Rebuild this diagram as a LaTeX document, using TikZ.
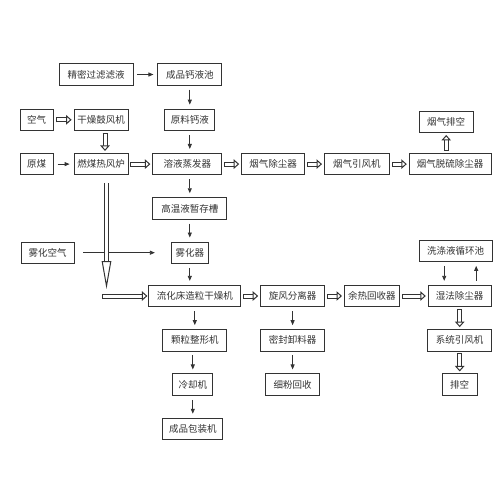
\documentclass[tikz,border=0pt]{standalone}
\usepackage{fontspec}
\newfontfamily\cjk{Noto Sans CJK SC}
\usetikzlibrary{arrows.meta, positioning}
\definecolor{LineGray}{HTML}{333333}

\begin{document}
\begin{tikzpicture}[
  x=1pt, y=-1pt,
  node distance=22pt and 19pt,
  every node/.style={font=\cjk\fontsize{9.5}{11}\selectfont, text=LineGray},
  box/.style={rectangle, draw=LineGray, line width=0.8pt, align=center,
              minimum height=21.5pt, inner xsep=2pt, inner ysep=0pt},
  arr/.style={-{Triangle[length=5pt, width=4pt]}, line width=0.8pt, draw=LineGray,
              shorten <=4pt, shorten >=4pt},
  hol/.style={double=white, double distance=3pt, line width=1pt, draw=LineGray,
              {Bar[width=5pt, line width=1pt]}-{Triangle[fill=white, length=5.5pt, width=9.5pt, line width=1pt]},
              shorten <=2pt, shorten >=2pt},
  hollong/.style={hol, -{Triangle[fill=white, length=28pt, width=9.5pt, line width=1pt]}}
]
\useasboundingbox (0,0) rectangle (500,500);

% Nodes
\node[box, minimum width=74pt] (filtrate) at (96,74.5) {精密过滤滤液};
\node[box, minimum width=64pt, right=24pt of filtrate] (calcpool) {成品钙液池};
\node[box, minimum width=50pt, below=23pt of calcpool] (rawcalc) {原料钙液};
\node[box, minimum width=69pt, below=of rawcalc, xshift=-2.5pt] (evap) {溶液蒸发器};
\node[box, minimum width=74pt, below=of evap, xshift=2.5pt] (tank) {高温液暂存槽};
\node[box, minimum width=37pt, below=of tank] (atom) {雾化器};
\node[box, minimum width=92pt, below=21pt of atom, xshift=5pt] (dryer) {流化床造粒干燥机};
\node[box, minimum width=64pt, below=of dryer] (shaper) {颗粒整形机};
\node[box, minimum width=40pt, below=of shaper, xshift=-2pt] (cooler) {冷却机};
\node[box, minimum width=60pt, below=of cooler] (packer) {成品包装机};

\node[box, minimum width=54pt, below=23pt of filtrate, xshift=5pt] (blower) {干燥鼓风机};
\node[box, minimum width=33pt, left=20pt of blower] (air) {空气};
\node[box, minimum width=54pt, below=of blower] (furnace) {燃煤热风炉};
\node[box, minimum width=33pt, left=20pt of furnace] (coal) {原煤};
\node[box, minimum width=53pt, left=96.5pt of atom] (mistair) {雾化空气};

\node[box, minimum width=63pt, right=of evap] (dust) {烟气除尘器};
\node[box, minimum width=65pt, right=of dust] (idfan) {烟气引风机};
\node[box, minimum width=82pt, right=of idfan] (desulf) {烟气脱硫除尘器};
\node[box, minimum width=54pt, above=20pt of desulf, xshift=-4pt] (flue) {烟气排空};

\node[box, minimum width=64pt, right=of dryer] (cyclone) {旋风分离器};
\node[box, minimum width=64pt, below=of cyclone] (seal) {密封卸料器};
\node[box, minimum width=54pt, below=of seal] (fines) {细粉回收};
\node[box, minimum width=55pt, right=of cyclone] (heatrec) {余热回收器};
\node[box, minimum width=63pt, right=28pt of heatrec] (wet) {湿法除尘器};
\node[box, minimum width=73pt, above=23pt of wet, xshift=-4pt] (washpool) {洗涤液循环池};
\node[box, minimum width=64pt, below=of wet] (sysfan) {系统引风机};
\node[box, minimum width=35pt, below=of sysfan] (vent) {排空};

\coordinate (hotdown) at (106.5,289);
\coordinate (hotin) at (102,292);
\coordinate (washdn) at ([xshift=-11.5pt]washpool.south);
\coordinate (washup) at ([xshift=20.5pt]washpool.south);

% Arrows
\draw[arr] (filtrate) -- (calcpool);
\draw[arr] (calcpool) -- (rawcalc);
\draw[arr] (rawcalc.south) -- (rawcalc.south |- evap.north);
\draw[arr] (evap.south -| tank) -- (tank.north);
\draw[arr] (tank) -- (atom);
\draw[arr] (atom.south) -- (atom.south |- dryer.north);
\draw[arr] (dryer.south -| shaper) -- (shaper.north);
\draw[arr] (shaper.south -| cooler) -- (cooler.north);
\draw[arr] (cooler) -- (packer);
\draw[arr] (coal) -- (furnace);
\draw[arr, shorten <=9pt, shorten >=16pt] (mistair) -- (atom);
\draw[arr] (cyclone) -- (seal);
\draw[arr] (seal) -- (fines);
\draw[arr] (washdn) -- (washdn |- wet.north);
\draw[arr] (washup |- wet.north) -- (washup);

% Hollow arrows
\draw[hol] (air) -- (blower);
\draw[hol] ([xshift=4pt]blower.south) -- ([xshift=4pt]furnace.north);
\draw[hol] (furnace) -- (evap);
\draw[hol] (evap) -- (dust);
\draw[hol] (dust) -- (idfan);
\draw[hol] (idfan) -- (desulf);
\draw[hol] (desulf.north -| flue) -- (flue.south);
\draw[hol] (dryer) -- (cyclone);
\draw[hol] (cyclone) -- (heatrec);
\draw[hol] (heatrec) -- (wet);
\draw[hol] (wet) -- (sysfan);
\draw[hol] (sysfan) -- (vent);
\draw[hollong, shorten <=8pt, shorten >=0pt] (furnace.south -| hotdown) -- (hotdown);
\draw[hol, shorten <=0pt, shorten >=1pt] (hotin |- dryer.west) -- (dryer.west);

\end{tikzpicture}
\end{document}
